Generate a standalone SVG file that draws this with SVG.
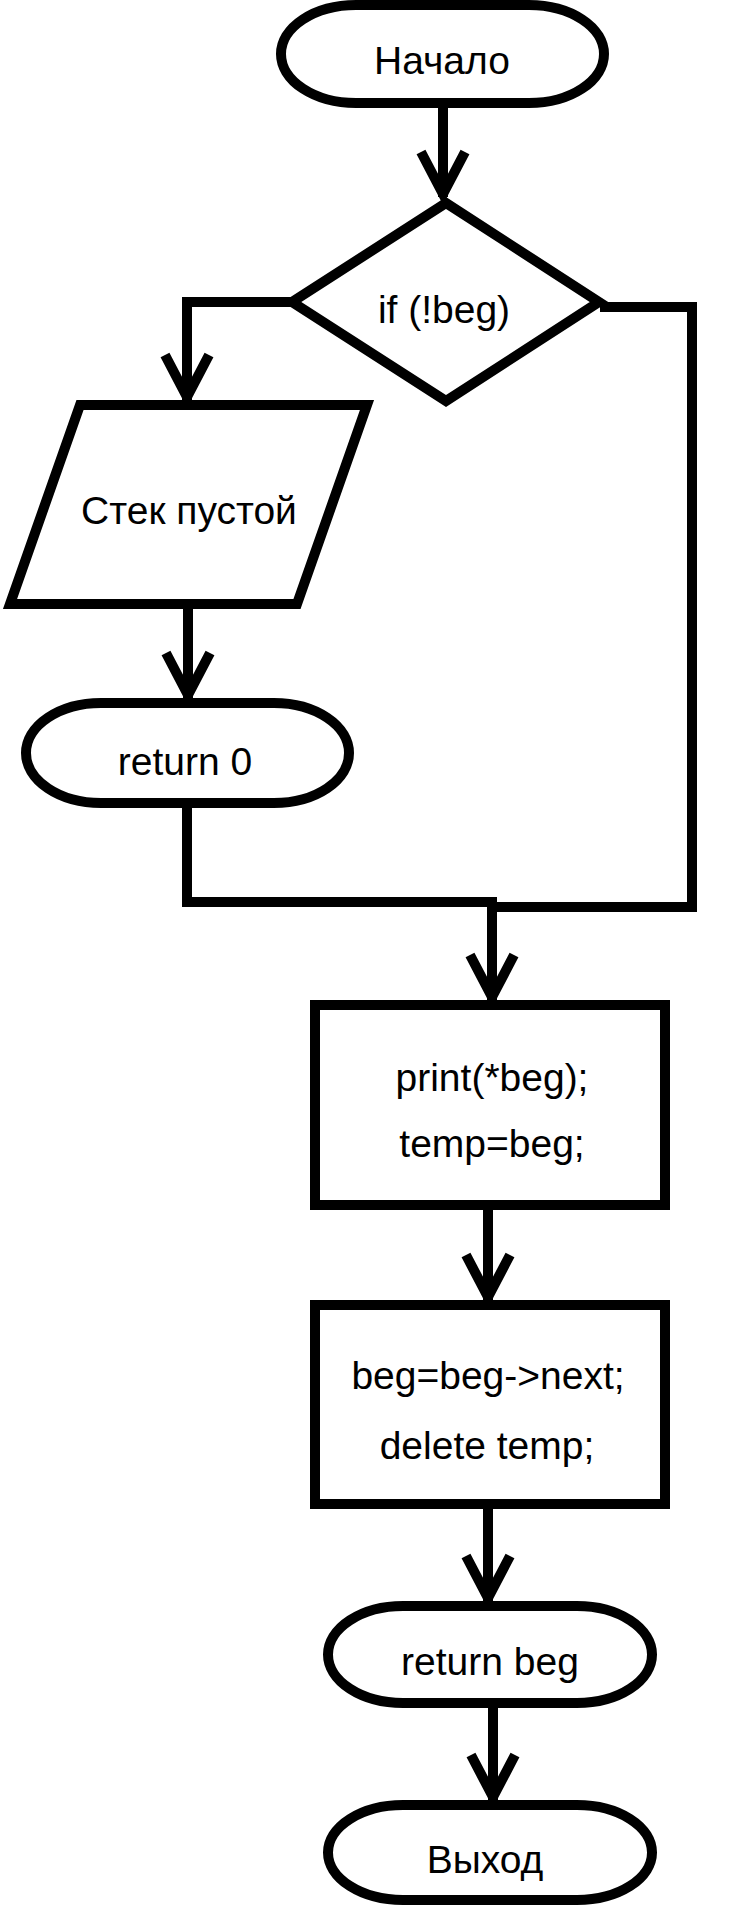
<svg xmlns="http://www.w3.org/2000/svg" width="740" height="1910" viewBox="0 0 740 1910">
<style>
.shape{fill:#fff;stroke:#000;stroke-width:10;stroke-linejoin:miter}
.conn{fill:none;stroke:#000;stroke-width:10;stroke-linejoin:miter}
.lbl{font-family:"Liberation Sans",Arial,sans-serif;font-size:39px;fill:#000;text-anchor:middle}
</style>
<defs>
<marker id="arr" markerUnits="userSpaceOnUse" orient="auto" refX="0" refY="0" markerWidth="80" markerHeight="80" overflow="visible">
<path d="M-45,-22 L-3,0 L-45,22" fill="none" stroke="#000" stroke-width="10"/>
</marker>
</defs>
<rect width="740" height="1910" fill="#fff"/>
<g id="connectors">
<path class="conn" d="M443,108 V197" marker-end="url(#arr)"/>
<path class="conn" d="M291,302 H187 V400" marker-end="url(#arr)"/>
<path class="conn" d="M600,307 H692 V907 H492"/>
<path class="conn" d="M188,609 V698" marker-end="url(#arr)"/>
<path class="conn" d="M187,807 V902 H497"/>
<path class="conn" d="M492,902 V1000" marker-end="url(#arr)"/>
<path class="conn" d="M488,1210 V1300" marker-end="url(#arr)"/>
<path class="conn" d="M488,1509 V1601" marker-end="url(#arr)"/>
<path class="conn" d="M493,1708 V1800" marker-end="url(#arr)"/>
</g>
<g id="start">
<rect class="shape" x="281" y="5" width="323" height="98" rx="75" ry="49"/>
<text class="lbl" x="442" y="74">Начало</text>
</g>
<g id="decision">
<polygon class="shape" points="446,203 599,302 446,401 292,302"/>
<text class="lbl" x="444" y="323">if (!beg)</text>
</g>
<g id="output">
<polygon class="shape" points="80,405 367,405 297,604 10,604"/>
<text class="lbl" x="189" y="524">Стек пустой</text>
</g>
<g id="return0">
<rect class="shape" x="26" y="703" width="323" height="100" rx="75" ry="50"/>
<text class="lbl" x="185" y="775">return 0</text>
</g>
<g id="process1">
<rect class="shape" x="315" y="1005" width="350" height="200"/>
<text class="lbl" x="492" y="1091">print(*beg);</text>
<text class="lbl" x="492" y="1157">temp=beg;</text>
</g>
<g id="process2">
<rect class="shape" x="315" y="1305" width="350" height="199"/>
<text class="lbl" x="488" y="1389">beg=beg-&gt;next;</text>
<text class="lbl" x="487" y="1459">delete temp;</text>
</g>
<g id="returnbeg">
<rect class="shape" x="328" y="1606" width="324" height="97" rx="75" ry="48.5"/>
<text class="lbl" x="490" y="1675">return beg</text>
</g>
<g id="exit">
<rect class="shape" x="328" y="1805" width="324" height="95" rx="75" ry="47.5"/>
<text class="lbl" x="485" y="1873">Выход</text>
</g>
</svg>
